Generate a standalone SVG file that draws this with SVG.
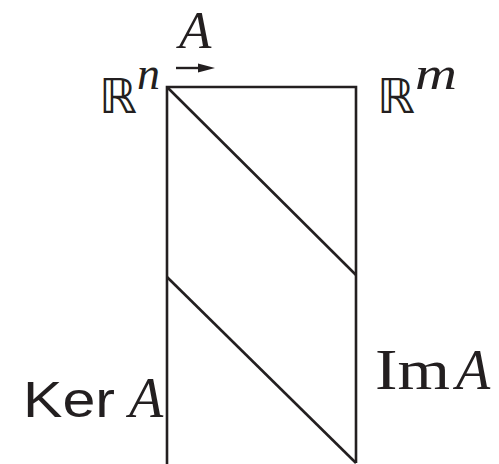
<svg xmlns="http://www.w3.org/2000/svg" width="499" height="464" viewBox="0 0 499 464">
<style>
.ln{fill:none;stroke:#231f20;stroke-width:2.6}
.it{font-family:"Liberation Serif",serif;font-style:italic;fill:#231f20}
.bb{font-family:"DejaVu Sans",sans-serif;fill:#231f20}
.sr{font-family:"Liberation Serif",serif;fill:#231f20}
.ss{font-family:"Liberation Sans",sans-serif;fill:#231f20}
</style>
<g id="matrix">
<path class="ln" d="M167,470 V87 H356 V463"/>
</g>
<g id="connectors">
<line class="ln" x1="167" y1="87" x2="356" y2="275"/>
<line class="ln" x1="167" y1="277" x2="356" y2="463"/>
<path d="M176,68 H199" stroke="#231f20" stroke-width="2.4"/>
<path d="M198,63.5 L215,68 L198,72.5 Z" fill="#231f20"/>
</g>
<g id="label-A">
<text class="it" x="179" y="48" font-size="53">A</text>
</g>
<g id="label-Rn">
<text class="bb" x="99" y="113" font-size="48">ℝ</text>
<text class="it" x="137" y="89" font-size="46">n</text>
</g>
<g id="label-Rm">
<text class="bb" x="377" y="113" font-size="48">ℝ</text>
<text class="it" x="415" y="89" font-size="46" textLength="42" lengthAdjust="spacingAndGlyphs">m</text>
</g>
<g id="label-Ker">
<text class="ss" x="23" y="417" font-size="50" textLength="92" lengthAdjust="spacingAndGlyphs">Ker</text>
<text class="it" x="129" y="417" font-size="56">A</text>
</g>
<g id="label-Im">
<text class="sr" x="375" y="389" font-size="56" textLength="75" lengthAdjust="spacingAndGlyphs">Im</text>
<text class="it" x="456" y="389" font-size="56">A</text>
</g>
</svg>
